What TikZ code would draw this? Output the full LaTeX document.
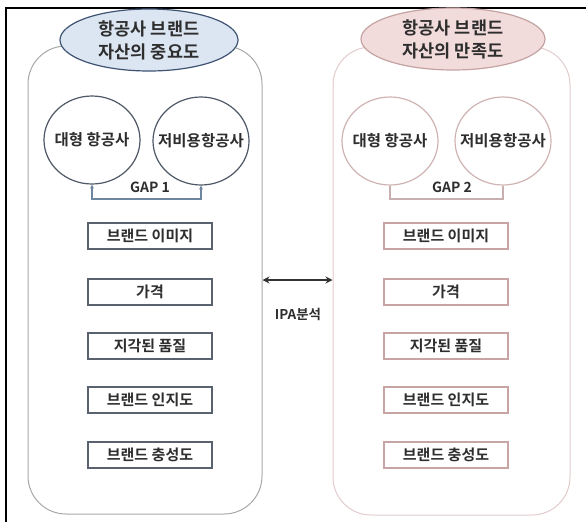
\documentclass[tikz,border=0pt]{standalone}
\usepackage{fontspec}
\newfontfamily\kr{Noto Sans CJK KR}[BoldFont={Noto Sans CJK KR Bold}]
\usetikzlibrary{shapes.geometric,arrows.meta}
\definecolor{hdrLfill}{HTML}{DCE6F2}
\definecolor{hdrLdraw}{HTML}{3F5472}
\definecolor{hdrRfill}{HTML}{F2DCDB}
\definecolor{hdrRdraw}{HTML}{C4A2A2}
\definecolor{bigLdraw}{HTML}{A8A8A8}
\definecolor{bigRdraw}{HTML}{E2CCCC}
\definecolor{circLdraw}{HTML}{4E5866}
\definecolor{circRdraw}{HTML}{D0B4B4}
\definecolor{boxLdraw}{HTML}{5A6270}
\definecolor{boxRdraw}{HTML}{C8A4A4}
\definecolor{gapLdraw}{HTML}{6F86A0}
\definecolor{gapRdraw}{HTML}{C8B0B0}
\definecolor{txt}{HTML}{2E2E2E}
\tikzset{
  bigbox/.style={rectangle, line width=1pt, fill=white, rounded corners=38pt,
    minimum width=#1, minimum height=468pt, inner sep=0pt},
  hdr/.style={ellipse, line width=1.2pt, minimum height=62pt, inner sep=0pt},
  hdrtext/.style={align=center, text=txt, font=\kr\bfseries\fontsize{17.5}{23}\selectfont},
  circ/.style={ellipse, line width=1.2pt, minimum width=96pt, minimum height=88pt, inner sep=0pt},
  circtext/.style={text=txt, font=\kr\bfseries\fontsize{15.5}{17}\selectfont},
  itembox/.style={rectangle, line width=1.8pt, minimum width=124pt, minimum height=26pt,
    inner sep=0pt, text=txt, font=\kr\bfseries\fontsize{15}{16}\selectfont},
  gaptext/.style={text=txt, font=\kr\bfseries\fontsize{14}{15}\selectfont},
}
\begin{document}
\begin{tikzpicture}[x=1pt,y=-1pt]
\useasboundingbox (0,0) rectangle (586,522);
% frame
\coordinate (fb) at (6,522);
\coordinate (ftl) at (6,8);
\coordinate (fr) at (586,8);
\draw[line width=1.4pt, black] (fb) -- (ftl) -- (fr);

% big rounded panels
\node[bigbox=234pt, draw=bigLdraw] (L) at (145,280) {};
\node[bigbox=237pt, draw=bigRdraw] (R) at (451.5,281) {};

% headers
\node[hdr, draw=hdrLdraw, fill=hdrLfill, minimum width=178pt,
  label={[hdrtext]center:항공사 브랜드\\자산의 중요도}] (hL) at (149,40) {};
\node[hdr, draw=hdrRdraw, fill=hdrRfill, minimum width=184pt,
  label={[hdrtext]center:항공사 브랜드\\자산의 만족도}] (hR) at (453,39) {};

% circles
\node[circ, draw=circLdraw, label={[circtext]center:대형 항공사}] (cL1) at (92,140) {};
\node[circ, draw=circLdraw, label={[circtext]center:저비용항공사}] (cL2) at (201,141) {};
\node[circ, draw=circRdraw, label={[circtext]center:대형 항공사}] (cR1) at (390,141) {};
\node[circ, draw=circRdraw, label={[circtext]center:저비용항공사}] (cR2) at (503,141) {};

% gaps
\coordinate (gL) at (146,199);
\coordinate (gR) at (449,199);
\draw[gapLdraw, line width=1.2pt, {Stealth[length=4pt,width=4pt]}-{Stealth[length=4pt,width=4pt]}]
  (cL1.south) |- (gL) -| (cL2.south);
\draw[gapRdraw, line width=1.2pt] (cR1.south) |- (gR) -| (cR2.south);
\node[gaptext] (tL) at (150,187) {GAP 1};
\node[gaptext] (tR) at (452,187) {GAP 2};

% items
\foreach \t/\y/\n in {브랜드 이미지/236/1, 가격/292/2, 지각된 품질/346/3, 브랜드 인지도/400/4, 브랜드 충성도/455/5}{
  \node[itembox, draw=boxLdraw] (bL\n) at (150,\y) {\t};
  \node[itembox, draw=boxRdraw] (bR\n) at (446,\y) {\t};
}

% IPA arrow
\draw[line width=1.6pt, black!80, {Stealth[length=7pt,width=7pt]}-{Stealth[length=7pt,width=7pt]}]
  (L.east) -- (L.east -| R.west);
\node[text=txt, font=\kr\bfseries\fontsize{13.5}{15}\selectfont] (ipa) at (298,314) {IPA분석};
\end{tikzpicture}
\end{document}
